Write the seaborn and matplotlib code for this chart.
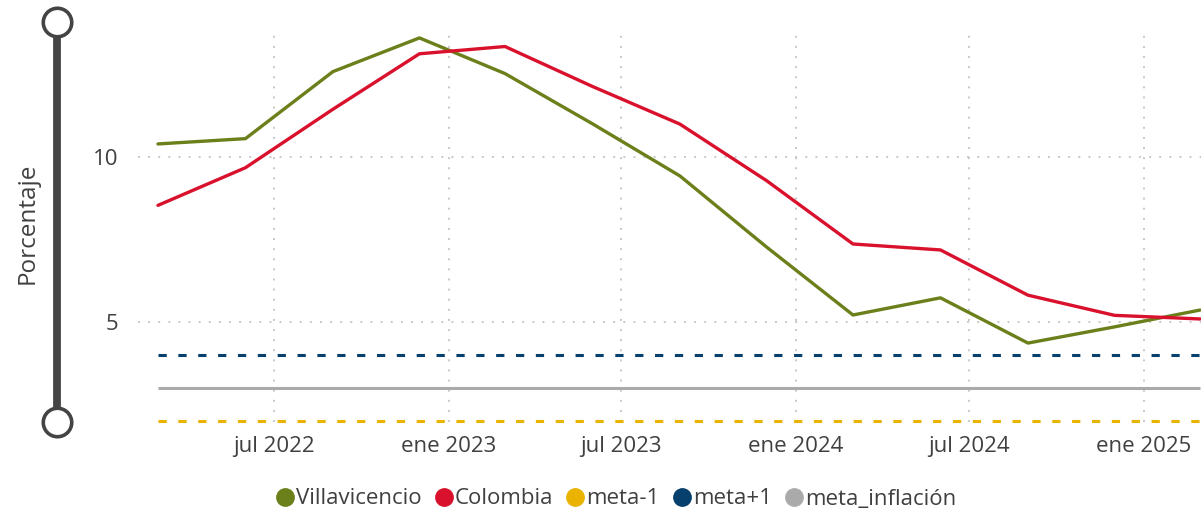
import seaborn as sns
import matplotlib.pyplot as plt
from matplotlib.lines import Line2D
import pandas as pd

sns.set_style("white")
plt.rcParams["font.family"] = ["Open Sans", "DejaVu Sans"]

# Data: quarterly inflation (% annual)
fechas = pd.to_datetime([
    "2022-03-01", "2022-06-01", "2022-09-01", "2022-12-01",
    "2023-03-01", "2023-06-01", "2023-09-01", "2023-12-01",
    "2024-03-01", "2024-06-01", "2024-09-01", "2024-12-01",
    "2025-03-01",
])
villavicencio = [10.39, 10.55, 12.58, 13.60, 12.52, 11.00, 9.42, 7.27, 5.21, 5.73, 4.36, 4.85, 5.36]
colombia = [8.53, 9.67, 11.44, 13.12, 13.34, 12.13, 10.99, 9.28, 7.36, 7.18, 5.81, 5.20, 5.09]
metas = {"meta-1": 2, "meta+1": 4, "meta_inflación": 3}

colores = {
    "Villavicencio": "#6B7F1A",
    "Colombia": "#D9112D",
    "meta-1": "#E9B300",
    "meta+1": "#073F6D",
    "meta_inflación": "#AAAAAA",
}
texto = "#404040"

df = pd.DataFrame({
    "fecha": list(fechas) * 2,
    "valor": villavicencio + colombia,
    "serie": ["Villavicencio"] * len(fechas) + ["Colombia"] * len(fechas),
})

fig = plt.figure(figsize=(12.02, 5.13), dpi=100)
ax = fig.add_axes([138 / 1202, 1 - 422 / 513, 1063 / 1202, 392 / 513])

sns.lineplot(data=df, x="fecha", y="valor", hue="serie", palette=colores,
             linewidth=2.4, legend=False, ax=ax, zorder=3)

# target lines
lw = 2.2
ax.hlines(metas["meta+1"], fechas[0], fechas[-1], colors=colores["meta+1"],
          linewidth=lw, linestyles=(0, (2.7, 3.8)), zorder=2)
ax.hlines(metas["meta_inflación"], fechas[0], fechas[-1], colors=colores["meta_inflación"],
          linewidth=lw, zorder=2)
ax.hlines(metas["meta-1"], fechas[0], fechas[-1], colors=colores["meta-1"],
          linewidth=lw, linestyles=(0, (2.7, 3.8)), zorder=2, clip_on=False)

ax.set_xlim(pd.Timestamp("2022-02-08"), pd.Timestamp("2025-03-02"))
ax.set_ylim(1.97, 13.84)
ax.set_yticks([5, 10])
ax.set_yticklabels(["5", "10"])

ticks = pd.to_datetime(["2022-07-01", "2023-01-01", "2023-07-01",
                        "2024-01-01", "2024-07-01", "2025-01-01"])
ax.set_xticks(ticks)
ax.set_xticklabels(["jul 2022", "ene 2023", "jul 2023", "ene 2024", "jul 2024", "ene 2025"])

ax.tick_params(axis="y", length=0, pad=14, labelsize=16, labelcolor=texto)
ax.tick_params(axis="x", length=0, pad=10, labelsize=16, labelcolor=texto)
ax.grid(True, color="#C8C8C8", linewidth=1.4, linestyle=(0, (1, 4.2)))
for s in ax.spines.values():
    s.set_visible(False)
ax.set_xlabel("")
ax.set_ylabel("")

fig.text(28 / 1202, 1 - 223 / 513, "Porcentaje", rotation=90, ha="center", va="center",
         fontsize=17.5, color=texto)

# left zoom slider decoration
slider = "#444444"
fig.add_artist(Line2D([57 / 1202, 57 / 1202], [1 - 22 / 513, 1 - 422 / 513],
                      color=slider, linewidth=5.6, solid_capstyle="butt"))
for yy in (22, 422):
    fig.add_artist(Line2D([57 / 1202], [1 - yy / 513], marker="o", markersize=20.5,
                          markerfacecolor="white", markeredgecolor=slider,
                          markeredgewidth=2.6, linestyle="none"))

handles = [Line2D([0], [0], marker="o", linestyle="none", markersize=12.5,
                  markerfacecolor=colores[k], markeredgecolor=colores[k], label=k)
           for k in ["Villavicencio", "Colombia", "meta-1", "meta+1", "meta_inflación"]]
fig.legend(handles=handles, loc="center", bbox_to_anchor=(615 / 1202, 1 - 499 / 513),
           ncol=5, frameon=False, fontsize=16, handletextpad=0.0, columnspacing=0.5,
           handlelength=1.0, labelcolor=texto)

fig.savefig("out.png", dpi=100)
plt.close()
